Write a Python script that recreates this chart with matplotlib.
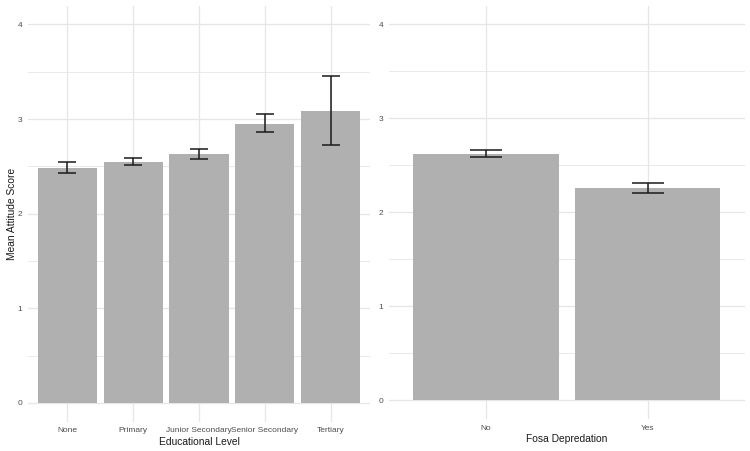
import matplotlib
matplotlib.use("Agg")
import matplotlib.pyplot as plt
import numpy as np

edu_levels = ["None", "Primary", "Junior Secondary", "Senior Secondary", "Tertiary"]
edu_means = [2.488, 2.544, 2.626, 2.953, 3.087]
edu_lower = [2.431, 2.513, 2.573, 2.862, 2.721]
edu_upper = [2.548, 2.587, 2.682, 3.049, 3.454]

fosa_levels = ["No", "Yes"]
fosa_means = [2.624, 2.262]
fosa_lower = [2.592, 2.209]
fosa_upper = [2.660, 2.315]

yticks = [0, 1, 2, 3, 4]
minor_ticks = [0.5, 1.5, 2.5, 3.5]

BAR = "#B0B0B0"
GRID = "#E6E6E6"
TXT = "#4D4D4D"

plt.rcParams['font.family'] = ['Liberation Sans', 'DejaVu Sans']

fig = plt.figure(figsize=(7.5, 4.51), dpi=100)
ax1 = fig.add_axes([0.0373, 0.0647, 0.456, 0.923])
ax2 = fig.add_axes([0.5187, 0.0707, 0.4743, 0.917])

def panel(ax, cats, means, lo, hi, xlabel, cap_pt, ylabel=None):
    x = np.arange(len(cats))
    ax.bar(x, means, width=0.9, color=BAR, zorder=2)
    m = np.array(means)
    yerr = np.vstack([m - np.array(lo), np.array(hi) - m])
    ax.errorbar(x, m, yerr=yerr, fmt="none", ecolor="#1a1a1a", elinewidth=1.1,
                capsize=cap_pt, capthick=1.1, zorder=3)
    ax.set_xlim(-0.6, len(cats) - 0.4)
    ax.set_ylim(-0.2, 4.2)
    ax.set_yticks(yticks)
    ax.set_yticks(minor_ticks, minor=True)
    ax.set_xticks(x)
    ax.set_xticklabels(cats)
    ax.grid(True, which="major", axis="both", color=GRID, linewidth=0.9, zorder=0)
    ax.grid(True, which="minor", axis="y", color=GRID, linewidth=0.6, zorder=0)
    ax.set_axisbelow(True)
    for s in ax.spines.values():
        s.set_visible(False)
    ax.tick_params(axis="both", which="both", length=0, labelsize=6.0, colors=TXT, pad=4)
    ax.set_xlabel(xlabel, fontsize=7.4, color="#1a1a1a", labelpad=2)
    if ylabel:
        ax.set_ylabel(ylabel, fontsize=7.4, color="#1a1a1a", labelpad=0.5)

panel(ax1, edu_levels, edu_means, edu_lower, edu_upper, "Educational Level", 6.5,
      ylabel="Mean Attitude Score")
panel(ax2, fosa_levels, fosa_means, fosa_lower, fosa_upper, "Fosa Depredation", 11.8)

fig.savefig("out.png", dpi=100, facecolor="white")
